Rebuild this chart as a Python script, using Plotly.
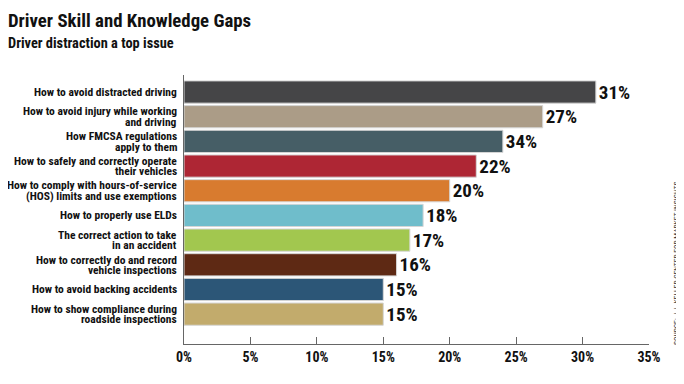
import plotly.graph_objects as go

categories = [
    "How to avoid distracted driving",
    "How to avoid injury while working<br>and driving",
    "How FMCSA regulations<br>apply to them",
    "How to safely and correctly operate<br>their vehicles",
    "How to comply with hours-of-service<br>(HOS) limits and use exemptions",
    "How to properly use ELDs",
    "The correct action to take<br>in an accident",
    "How to correctly do and record<br>vehicle inspections",
    "How to avoid backing accidents",
    "How to show compliance during<br>roadside inspections",
]
values = [31, 27, 24, 22, 20, 18, 17, 16, 15, 15]
value_labels = ["31%", "27%", "34%", "22%", "20%", "18%", "17%", "16%", "15%", "15%"]
colors = ["#454547", "#ab9c87", "#465e66", "#ae2634", "#d87b2f",
          "#6fbdcb", "#a2c74f", "#5e2914", "#2c5677", "#c2ab6c"]
x_ticks = [0, 5, 10, 15, 20, 25, 30, 35]

FONT = "Roboto Condensed, Liberation Sans Narrow, sans-serif"

# page offset from the default body margin of the html page
OFF = 8
W, H = 684 - OFF, 384 - 2 * OFF
L, T = 184 - OFF, 75 - OFF
pw, ph = 465, 269
R, B = W - L - pw, H - T - ph

def px_x(px):  # page pixel -> paper x
    return (px - OFF - L) / pw

def px_y(py):  # page pixel -> paper y
    return (T + ph - (py - OFF)) / ph

fig = go.Figure(go.Bar(
    x=values, y=categories, orientation="h",
    marker=dict(color=colors, line=dict(color="#d6d6d6", width=1)),
    text=value_labels, textposition="outside", constraintext="none",
    textfont=dict(family=FONT, size=19, color="#111111", weight="bold"),
    cliponaxis=False, width=0.9,
))

annotations = []
LINE = 10.5
for cat in categories:
    lines = cat.split("<br>")
    n = len(lines)
    for i, ln in enumerate(lines):
        annotations.append(dict(
            text=ln, xref="paper", yref="y", x=px_x(179), y=cat,
            xanchor="right", yanchor="middle", showarrow=False,
            yshift=((n - 1) / 2 - i) * LINE,
            font=dict(family=FONT, size=11.5, color="#111111", weight="bold"),
        ))

annotations += [
    dict(text="Driver Skill and Knowledge Gaps", xref="paper", yref="paper",
         x=px_x(6), y=px_y(21), xanchor="left", yanchor="middle",
         showarrow=False,
         font=dict(family=FONT, size=18.8, color="#111111", weight="bold")),
    dict(text="Driver distraction a top issue", xref="paper", yref="paper",
         x=px_x(6), y=px_y(44), xanchor="left", yanchor="middle",
         showarrow=False,
         font=dict(family=FONT, size=14.4, color="#111111", weight="bold")),
    dict(text="SOURCE: J.J. KELLER CENTER FOR MARKET INSIGHTS", xref="paper", yref="paper",
         x=px_x(676), y=px_y(263), xanchor="center", yanchor="middle",
         textangle=-90, showarrow=False,
         font=dict(family=FONT, size=7.6, color="#333333")),
]

fig.update_layout(
    width=W, height=H,
    margin=dict(l=L, r=R, t=T, b=B, pad=0),
    paper_bgcolor="white", plot_bgcolor="white",
    showlegend=False,
    font=dict(family=FONT, color="#111111"),
    xaxis=dict(
        range=[0, 35], tickvals=x_ticks, ticktext=[f"{v}%" for v in x_ticks],
        showgrid=False, zeroline=False, automargin=False,
        showline=True, linecolor="#666666", linewidth=1,
        ticks="inside", ticklen=7, tickcolor="#666666", tickwidth=1,
        tickfont=dict(family=FONT, size=14, color="#111111", weight="bold"),
        fixedrange=True,
    ),
    yaxis=dict(
        categoryorder="array", categoryarray=categories,
        range=[10.21, -0.69], automargin=False,
        showgrid=False, zeroline=False, showticklabels=False,
        showline=True, linecolor="#666666", linewidth=1, ticks="",
    ),
    annotations=annotations,
)

fig.write_html("out.html")
